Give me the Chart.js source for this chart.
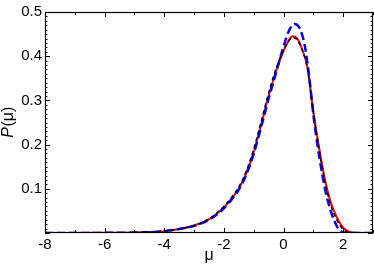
<!DOCTYPE html>
<html>
<head>
<meta charset="utf-8">
<script src="https://cdn.jsdelivr.net/npm/chart.js@4/dist/chart.umd.min.js"></script>
<style>
  html, body { margin: 0; padding: 0; background: #fff; }
  #wrap { width: 374px; height: 265px; }
</style>
</head>
<body>
<div id="wrap"><canvas id="dist"></canvas></div>
<script>
// mu values and P(mu) for each curve
var muRed  = [-8, -6, -5, -4.5, -4, -3.5, -3, -2.5, -2, -1.75, -1.5, -1.25, -1, -0.75, -0.5, -0.25, 0, 0.15, 0.3, 0.45, 0.6, 0.8, 1.0, 1.2, 1.4, 1.6, 1.8, 2.0, 2.2, 2.4, 2.6, 3];
var pRed   = [0, 0.0003, 0.001, 0.002, 0.004, 0.009, 0.017, 0.031, 0.058, 0.077, 0.1, 0.135, 0.183, 0.245, 0.31, 0.366, 0.412, 0.433, 0.445, 0.441, 0.42, 0.375, 0.275, 0.19, 0.117, 0.066, 0.034, 0.012, 0.003, 0.0005, 0, 0];

var muBlue = [-8, -6, -5, -4.5, -4, -3.5, -3, -2.5, -2, -1.75, -1.5, -1.25, -1, -0.75, -0.5, -0.25, 0, 0.2, 0.37, 0.55, 0.7, 0.85, 1.0, 1.2, 1.4, 1.6, 1.8, 1.95, 2.1, 3];
var pBlue  = [0, 0.0003, 0.001, 0.002, 0.004, 0.009, 0.016, 0.03, 0.056, 0.075, 0.098, 0.132, 0.179, 0.24, 0.304, 0.363, 0.422, 0.46, 0.473, 0.462, 0.428, 0.36, 0.268, 0.172, 0.097, 0.046, 0.014, 0.003, 0, 0];

var muBlack = [-8, -6, -5, -4.5, -4, -3.5, -3, -2.5, -2, -1.75, -1.5, -1.25, -1, -0.75, -0.5, -0.25, 0, 0.15, 0.3, 0.45, 0.6, 0.8, 1.0, 1.2, 1.4, 1.6, 1.8, 2.0, 2.2, 2.5, 3];
var pBlack  = [0, 0.0003, 0.001, 0.002, 0.004, 0.009, 0.017, 0.032, 0.06, 0.08, 0.104, 0.14, 0.19, 0.252, 0.317, 0.372, 0.414, 0.432, 0.442, 0.438, 0.418, 0.372, 0.272, 0.186, 0.112, 0.06, 0.028, 0.008, 0.001, 0, 0];

var xTicks = [-8, -6, -4, -2, 0, 2];
var yTicks = [0.1, 0.2, 0.3, 0.4, 0.5];

function pts(xs, ys) {
  var out = [];
  for (var i = 0; i < xs.length; i++) out.push({ x: xs[i], y: ys[i] });
  return out;
}

// box frame with inward ticks on all four sides, plus the P(mu) label with italic P
var frameTicks = {
  id: 'frameTicks',
  afterDraw: function (chart) {
    var c = chart.ctx, a = chart.chartArea;
    var sx = chart.scales.x, sy = chart.scales.y;
    c.save();
    c.strokeStyle = '#000';
    c.lineWidth = 1;
    var v, px, len;
    for (v = -8; v <= 3; v++) {
      px = Math.round(sx.getPixelForValue(v)) + 0.5;
      len = (v % 2 === 0) ? 5 : 3;
      c.beginPath();
      c.moveTo(px, a.bottom); c.lineTo(px, a.bottom - len);
      c.moveTo(px, a.top); c.lineTo(px, a.top + len);
      c.stroke();
    }
    for (var k = 0; k <= 50; k++) {
      v = k / 100;
      px = Math.round(sy.getPixelForValue(v)) + 0.5;
      len = (k % 10 === 0) ? 5 : 2.5;
      c.beginPath();
      c.moveTo(a.left, px); c.lineTo(a.left + len, px);
      c.moveTo(a.right, px); c.lineTo(a.right - len, px);
      c.stroke();
    }
    c.lineWidth = 1.2;
    c.strokeRect(a.left + 0.5, a.top + 0.5, a.right - a.left - 1, a.bottom - a.top - 1);

    // y title
    var fItal = 'italic 16px "Liberation Sans"';
    var fNorm = '16px "Liberation Sans"';
    c.font = fItal;
    var wP = c.measureText('P').width;
    c.font = fNorm;
    var wR = c.measureText('(μ)').width;
    var cy = sy.getPixelForValue(0.25);
    c.translate(13, cy);
    c.rotate(-Math.PI / 2);
    c.fillStyle = '#000';
    c.textBaseline = 'alphabetic';
    c.textAlign = 'left';
    var x0 = -(wP + wR) / 2;
    c.font = fItal;
    c.fillText('P', x0, 0);
    c.font = fNorm;
    c.fillText('(μ)', x0 + wP + 0.5, 0);
    c.restore();
  }
};

var ctx = document.getElementById('dist').getContext('2d');
var myChart = new Chart(ctx, {
  type: 'line',
  data: {
    datasets: [
      {
        label: 'black',
        data: pts(muBlack, pBlack),
        borderColor: '#000',
        borderWidth: 1.5,
        borderDash: [4, 3],
        pointRadius: 0,
        cubicInterpolationMode: 'monotone'
      },
      {
        label: 'blue',
        data: pts(muBlue, pBlue),
        borderColor: '#0000ff',
        borderWidth: 2.5,
        borderDash: [8, 4],
        pointRadius: 0,
        cubicInterpolationMode: 'monotone'
      },
      {
        label: 'red',
        data: pts(muRed, pRed),
        borderColor: '#ff0000',
        borderWidth: 2,
        pointRadius: 0,
        cubicInterpolationMode: 'monotone'
      }
    ]
  },
  options: {
    responsive: true,
    maintainAspectRatio: false,
    animation: false,
    layout: { padding: { top: 6, right: 1, left: 0, bottom: 0 } },
    plugins: {
      legend: { display: false },
      tooltip: { enabled: false }
    },
    scales: {
      x: {
        type: 'linear',
        min: -8,
        max: 3,
        grid: { display: false, drawTicks: false },
        border: { display: false },
        afterBuildTicks: function (s) {
          s.ticks = xTicks.map(function (t) { return { value: t }; });
        },
        ticks: {
          color: '#000',
          padding: 3,
          maxRotation: 0,
          font: { family: 'Liberation Sans', size: 15 }
        },
        title: {
          display: true,
          text: 'μ',
          color: '#000',
          padding: { top: -3, bottom: 0 },
          font: { family: 'Liberation Sans', size: 16 }
        },
        afterFit: function (s) { s.height = 32; }
      },
      y: {
        min: 0,
        max: 0.5,
        grid: { display: false, drawTicks: false },
        border: { display: false },
        afterBuildTicks: function (s) {
          s.ticks = yTicks.map(function (t) { return { value: t }; });
        },
        ticks: {
          color: '#000',
          padding: 3,
          font: { family: 'Liberation Sans', size: 15 },
          callback: function (v) { return v.toFixed(1); }
        },
        afterFit: function (s) { s.width = 45; }
      }
    }
  },
  plugins: [frameTicks]
});
</script>
</body>
</html>
